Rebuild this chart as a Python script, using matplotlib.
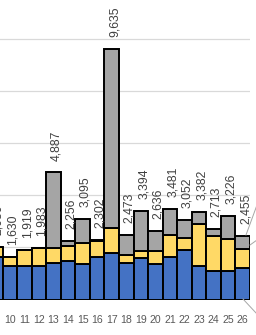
import numpy as np
import matplotlib
matplotlib.use('Agg')
import matplotlib.pyplot as plt
from matplotlib.lines import Line2D

######################
# Data (category 9 is cut at the left edge)
categories = [9, 10, 11, 12, 13, 14, 15, 16, 17, 18, 19, 20, 21, 22, 23, 24, 25, 26]
blue = [1640, 1300, 1300, 1300, 1415, 1480, 1365, 1646, 1777,
        1392, 1584, 1354, 1623, 1904, 1288, 1096, 1096, 1200]
yellow = [390, 330, 619, 683, 577, 578, 820, 604, 961,
          319, 281, 511, 846, 473, 1604, 1346, 1219, 731]
gray = [0, 0, 0, 0, 2895, 198, 910, 52, 6897,
        762, 1529, 771, 1012, 675, 490, 271, 911, 524]
total_labels = ['2,030', '1,630', '1,919', '1,983', '4,887', '2,256', '3,095',
                '2,302', '9,635', '2,473', '3,394', '2,636', '3,481', '3,052',
                '3,382', '2,713', '3,226', '2,455']

# Styles
c_blue = '#4472C4'
c_yellow = '#FFD966'
c_gray = '#A5A5A5'
edge = dict(edgecolor='black', linewidth=1.4)
plt.rcParams['font.family'] = ['Liberation Sans', 'DejaVu Sans']

fig = plt.figure(figsize=(2.56, 3.35), dpi=100)
# plot area is cropped: left edge at x=0, top runs past the picture
ax = fig.add_axes([0.0, 35.5 / 335, 250 / 256, 299.5 / 335])

x = np.array(categories)
b = np.array(blue)
y = np.array(yellow)
g = np.array(gray)

ax.bar(x, b, width=1.0, color=c_blue, zorder=2, **edge)
ax.bar(x, y, width=1.0, bottom=b, color=c_yellow, zorder=2, **edge)
ax.bar(x, g, width=1.0, bottom=b + y, color=c_gray, zorder=2, **edge)

# Total labels above stacks
for xi, tot, lab in zip(x, b + y + g, total_labels):
    ax.annotate(lab, (xi, tot), xytext=(2, 8.5), textcoords='offset points',
                rotation=90, ha='center', va='bottom', fontsize=8.8,
                color='#404040', annotation_clip=False)

ax.set_xlim(9.32, 26.5)
ax.set_ylim(0, 11519)
ax.set_yticks([2000, 4000, 6000, 8000, 10000])
ax.yaxis.grid(True, color='#D9D9D9', linewidth=0.9, zorder=0)
ax.set_axisbelow(True)
ax.set_yticklabels([])
ax.tick_params(axis='y', length=0)
ax.set_xticks(x[1:])
ax.set_xticklabels([str(c) for c in categories[1:]])
ax.tick_params(axis='x', length=0, pad=11.5, labelsize=7.6, labelcolor='#595959')
for s in ax.spines.values():
    s.set_visible(False)

# Leader lines running off to the right (labels cropped out)
def px_line(x0, y0, x1, y1):
    fig.add_artist(Line2D([x0 / 256, x1 / 256], [1 - y0 / 335, 1 - y1 / 335],
                          color='#A6A6A6', linewidth=0.7))

px_line(246, 235, 257, 205)
px_line(250, 245, 257, 240)
px_line(243, 299, 257, 314)

fig.savefig('out.png', dpi=100)
